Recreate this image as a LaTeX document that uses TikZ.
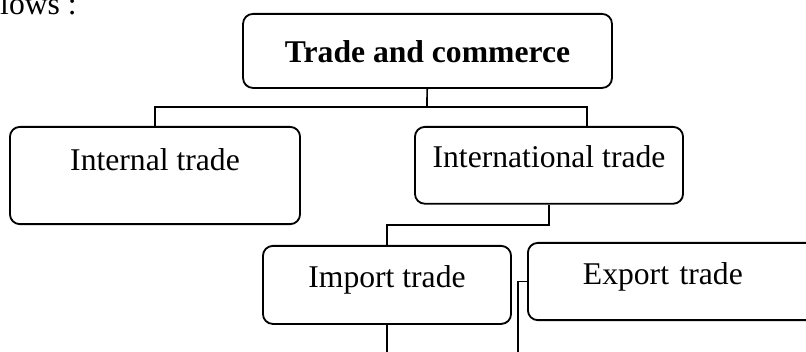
\documentclass[tikz,border=0pt]{standalone}
\usepackage{fontspec}
\setmainfont{Liberation Serif}
\usetikzlibrary{positioning}

\begin{document}
\begin{tikzpicture}[
    x=0.025cm, y=-0.025cm,
    every node/.style={font=\fontsize{22.5}{27}\selectfont},
    block/.style={
        rectangle,
        draw,
        line width=1.3pt,
        rounded corners=7pt,
        inner sep=0pt,
        text height=1.04cm,
        text depth=0.91cm
    },
    link/.style={line width=1.2pt}
]
\clip (0,0) rectangle (806,352);

% Nodes
\node (intro) [anchor=base east, inner sep=0pt] at (77,15) {lows :};

\node (trade) [block, anchor=north, minimum width=9.22cm,
    text height=1.21cm, text depth=0.64cm,
    font=\fontsize{22.5}{27}\selectfont\bfseries] at (427.5,13)
{Trade and commerce};

\node (internal) [block, anchor=north, minimum width=7.25cm,
    text height=1.09cm, text depth=1.34cm] at (155,126)
{Internal trade};

\node (intl) [block, anchor=north, minimum width=6.7cm,
    text height=1.01cm] at (549,126)
{International trade};

\node (import) [block, anchor=north, minimum width=6.2cm] at (387,245)
{Import trade};

\node (export) [block, anchor=north west, text depth=0.89cm,
    text width=8cm, align=left, inner xsep=1.375cm] at (527,242)
{Export trade};

% Joints and free ends
\coordinate (tjoint) at (427,107);
\coordinate (intlin) at (587,107);
\coordinate (ijoint) at (549,225);
\coordinate (importend) at (387,352);
\coordinate (exportend) at (518,352);

% Connectors
\draw [link] (trade) -- (tjoint);
\draw [link] (internal.north) |- (tjoint) -| (intlin |- intl.north);
\draw [link] (intl.south) -- (ijoint) -| (import.north);
\draw [link] (import.south) -- (importend);
\draw [link] (export.west) -| (exportend);

\end{tikzpicture}
\end{document}
